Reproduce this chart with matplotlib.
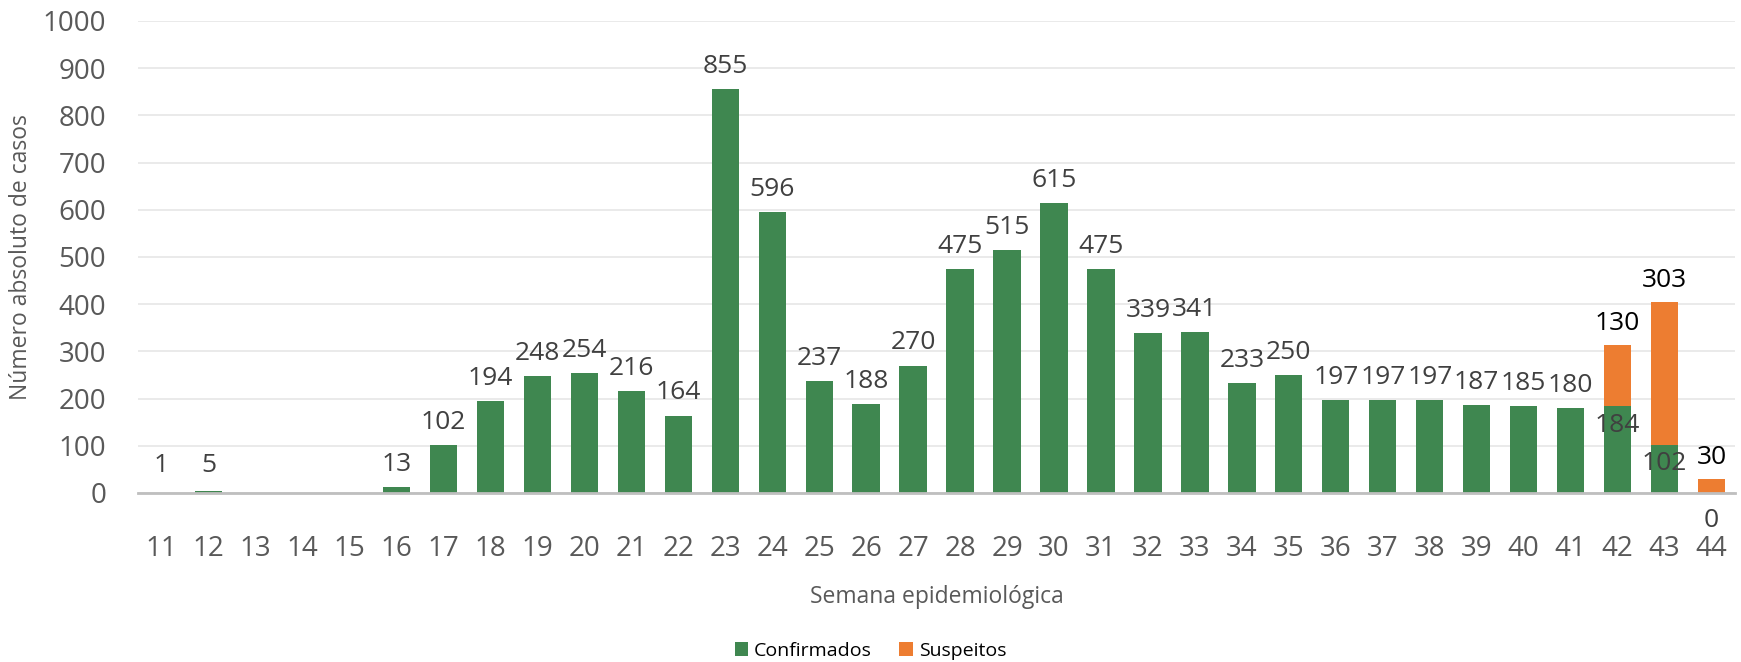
import numpy as np
import matplotlib.pyplot as plt

plt.rcParams['font.family'] = ['Open Sans', 'DejaVu Sans']

semanas = list(range(11, 45))
confirmados = [1, 5, np.nan, np.nan, np.nan, 13, 102, 194, 248, 254, 216, 164, 855, 596,
               237, 188, 270, 475, 515, 615, 475, 339, 341, 233, 250, 197, 197, 197,
               187, 185, 180, 184, 102, 0]
suspeitos = [np.nan] * 31 + [130, 303, 30]

verde = '#3f8750'
laranja = '#ed7d31'
cinza = '#595959'

fig, ax = plt.subplots(figsize=(17.41, 6.62), dpi=100)
fig.subplots_adjust(left=0.0793, right=0.9966, top=0.9683, bottom=0.2553)

x = np.arange(len(semanas))
conf = np.array(confirmados, dtype=float)
susp = np.array(suspeitos, dtype=float)
base = np.nan_to_num(conf)

ax.bar(x, conf, width=0.58, color=verde, label='Confirmados', zorder=2)
ax.bar(x, susp, width=0.58, bottom=base, color=laranja, label='Suspeitos', zorder=2)

# rótulos
for i, v in enumerate(conf):
    if np.isnan(v):
        continue
    if not np.isnan(susp[i]):
        if v == 0:
            y = -58
        else:
            y = v - 40
    else:
        y = max(v, 10) + 48
    ax.text(x[i], y, f'{int(v)}', ha='center', va='center', fontsize=19, color='#404040',
            zorder=3, clip_on=False)

for i, v in enumerate(susp):
    if np.isnan(v):
        continue
    ax.text(x[i], base[i] + v + 45, f'{int(v)}', ha='center', va='center', fontsize=19,
            color='black', zorder=3)

ax.set_xlim(-0.5, len(semanas) - 0.5)
ax.set_ylim(0, 1000)
ax.set_yticks(range(0, 1001, 100))
ax.set_xticks(x)
ax.set_xticklabels([str(s) for s in semanas])
ax.tick_params(axis='both', length=0, labelsize=20, labelcolor=cinza)
ax.tick_params(axis='x', pad=30)
ax.tick_params(axis='y', pad=23)

ax.grid(axis='y', color='#e6e6e6', linewidth=1.2, zorder=0)
ax.set_axisbelow(True)
for s in ['top', 'right', 'left']:
    ax.spines[s].set_visible(False)
ax.spines['bottom'].set_color('#bfbfbf')
ax.spines['bottom'].set_linewidth(2)
ax.spines['bottom'].set_zorder(4)

ax.set_xlabel('Semana epidemiológica', fontsize=16.5, color=cinza, labelpad=16)
ax.set_ylabel('Número absoluto de casos', fontsize=16.5, color=cinza)
ax.yaxis.set_label_coords(-0.0655, 0.5)

fig.legend(loc='center', bbox_to_anchor=(0.5, 1 - 651 / 662), ncol=2, frameon=False,
           fontsize=14, handlelength=0.7, handleheight=0.7, columnspacing=1.4,
           handletextpad=0.3)

fig.savefig('out.png', dpi=100)
